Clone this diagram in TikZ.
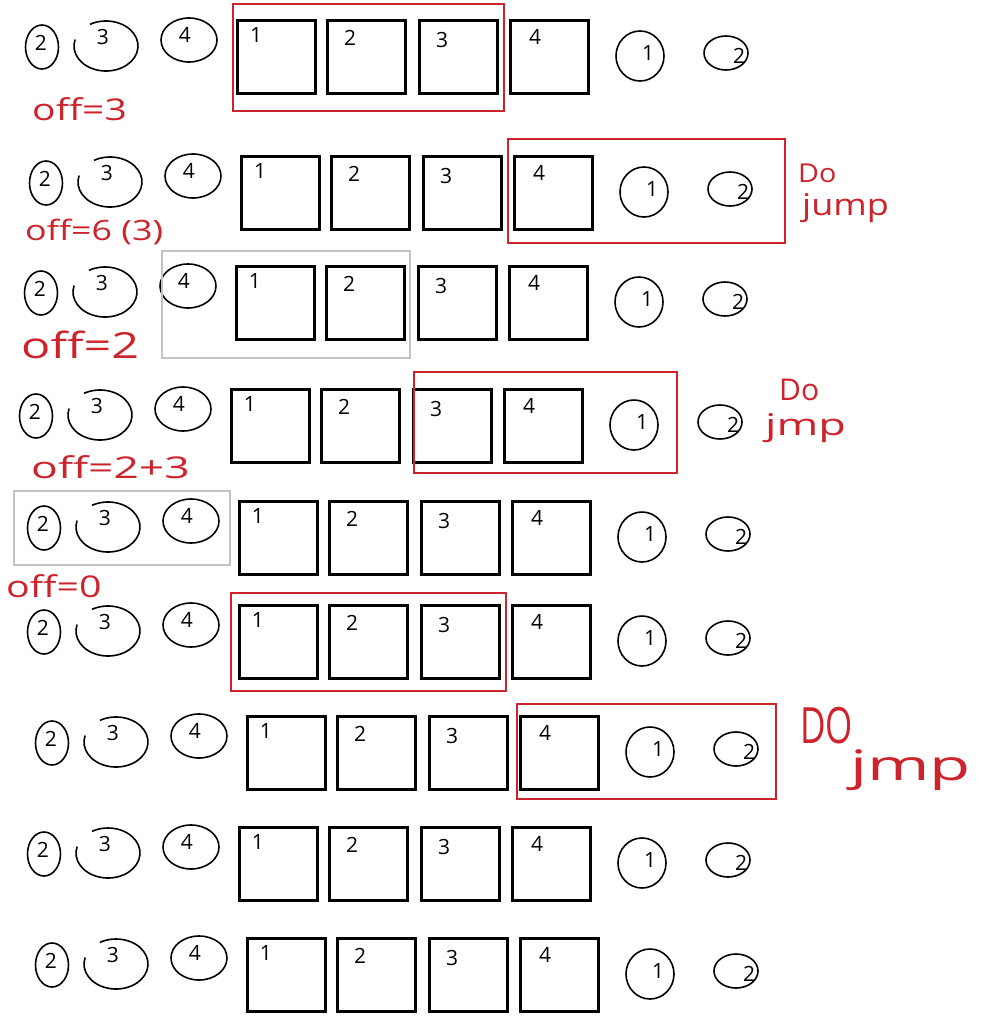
\documentclass[tikz,border=0pt]{standalone}
\usepackage{fontspec}
\usepackage{graphicx}
\setmainfont{Open Sans}
\usetikzlibrary{shapes.geometric}
\definecolor{hred}{RGB}{205,35,45}
\definecolor{hgray}{RGB}{195,195,195}
\tikzset{
 sqbox/.style={draw=black, line width=2.6pt, minimum width=78pt, minimum height=73pt, inner sep=0pt},
 ring/.style={draw=black, ellipse, line width=1.6pt, inner sep=0pt},
 dig/.style={font=\fontsize{21}{21}\selectfont, inner sep=0pt},
 note/.style={text=hred, inner sep=0pt, anchor=base west},
 redbox/.style={draw=hred, line width=2.1pt},
 graybox/.style={draw=hgray, line width=2.1pt},
}
\newcommand\qrow[3]{%
\begin{scope}[shift={(#2,#3)}]
 \node[sqbox] (#1s1) at (40.5,38) {};
 \node[sqbox] (#1s2) at (130.5,38) {};
 \node[sqbox] (#1s3) at (222.5,38) {};
 \node[sqbox] (#1s4) at (313.5,38) {};
 \node[dig] (#1t1) at (20,16) {1};
 \node[dig] (#1t2) at (114,19) {2};
 \node[dig] (#1t3) at (206,21) {3};
 \node[dig] (#1t4) at (299,18) {4};
 \node[ring, minimum width=33pt, minimum height=44pt] (#1a) at (-194,28) {};
 \node[dig] (#1ta) at (-195,24) {2};
 \coordinate (#1b) at (-130,27);
 \draw[line width=1.6pt] (#1b) ++(165:32pt and 25pt) arc[start angle=165, end angle=480, x radius=32pt, y radius=25pt];
 \node[dig] (#1tb) at (-133,18) {3};
 \node[ring, minimum width=56pt, minimum height=44pt] (#1c) at (-47,21) {};
 \node[dig] (#1tc) at (-51,16) {4};
 \node[ring, minimum width=48pt, minimum height=50pt] (#1d) at (404,37) {};
 \node[dig] (#1td) at (412,34) {1};
 \node[ring, minimum width=44pt, minimum height=34pt] (#1e) at (490,34) {};
 \node[dig] (#1te) at (503,37) {2};
\end{scope}}
\begin{document}
\begin{tikzpicture}[x=1pt,y=-1pt]
\fill[white] (0,0) rectangle (1000,1033);
\useasboundingbox (0,0) rectangle (1000,1033);
\qrow{r1}{236}{19}
\qrow{r2}{240}{155}
\qrow{r3}{235}{265}
\qrow{r4}{230}{388}
\qrow{r5}{238}{500}
\qrow{r6}{238}{604}
\qrow{r7}{246}{715}
\qrow{r8}{238}{826}
\qrow{r9}{246}{937}
\draw[redbox] (233,4) rectangle (504,111);
\draw[redbox] (508,139) rectangle (785,243);
\draw[graybox] (162,251) rectangle (410,358);
\draw[redbox] (414,372) rectangle (677,473);
\draw[graybox] (14,491) rectangle (230,565);
\draw[redbox] (231,593) rectangle (506,691);
\draw[redbox] (517,704) rectangle (776,799);
\node[note, font=\fontsize{30}{30}\selectfont] (l1) at (32,120) {\scalebox{1.3}[1]{off=3}};
\node[note, font=\fontsize{28}{28}\selectfont] (l2) at (25,240) {\scalebox{1.28}[1]{off=6 (3)}};
\node[note, font=\fontsize{36}{36}\selectfont] (l3) at (21,358) {\scalebox{1.35}[1]{off=2}};
\node[note, font=\fontsize{30}{30}\selectfont] (l4) at (31,478) {\scalebox{1.48}[1]{off=2+3}};
\node[note, font=\fontsize{30}{30}\selectfont] (l5) at (6,597) {\scalebox{1.31}[1]{off=0}};
\node[note, font=\fontsize{26}{26}\selectfont] (d2a) at (798,182) {\scalebox{1.1}[1]{Do}};
\node[note, font=\fontsize{30}{30}\selectfont] (d2b) at (802,215) {\scalebox{1.2}[1]{jump}};
\node[note, font=\fontsize{30}{30}\selectfont] (d4a) at (779,400) {Do};
\node[note, font=\fontsize{30}{30}\selectfont] (d4b) at (765,435) {\scalebox{1.5}[1]{jmp}};
\node[note, font=\fontsize{50}{50}\selectfont] (d7a) at (800,743) {\scalebox{0.7}[1]{DO}};
\node[note, font=\fontsize{42}{42}\selectfont] (d7b) at (850,780) {\scalebox{1.6}[1]{jmp}};
\end{tikzpicture}
\end{document}
